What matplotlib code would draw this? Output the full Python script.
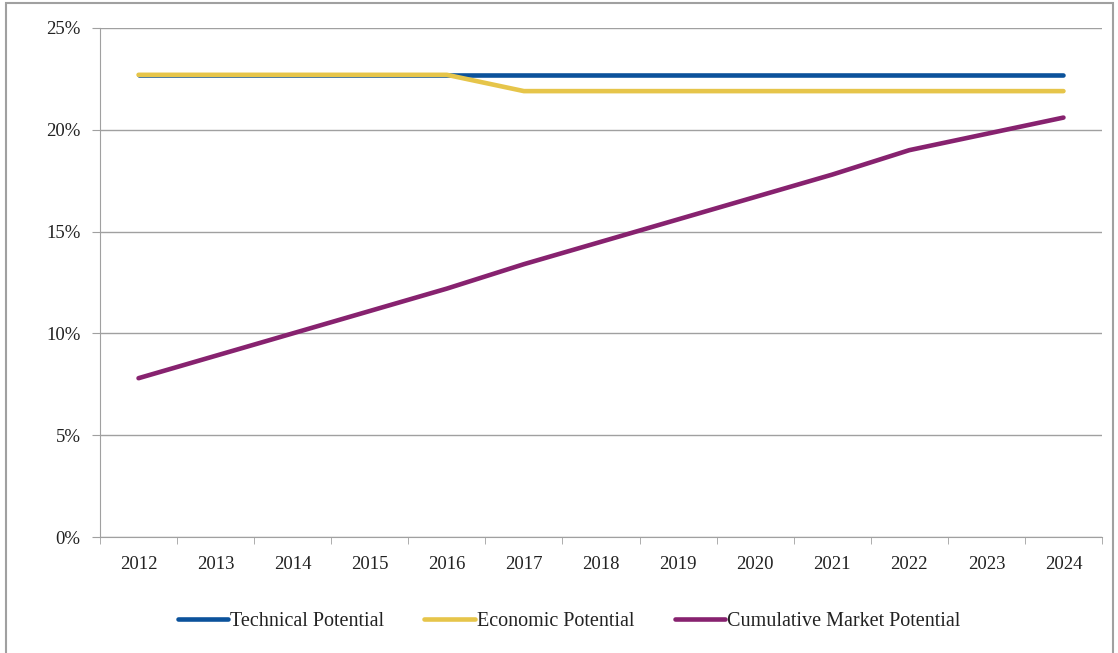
import matplotlib.pyplot as plt
from matplotlib.patches import Rectangle

# dados
anos = ['2012', '2013', '2014', '2015', '2016', '2017', '2018',
        '2019', '2020', '2021', '2022', '2023', '2024']
tecnico = [22.7] * 13
economico = [22.7, 22.7, 22.7, 22.7, 22.7, 21.9, 21.9,
             21.9, 21.9, 21.9, 21.9, 21.9, 21.9]
cumulativo = [7.8, 8.9, 10.0, 11.1, 12.2, 13.4, 14.5,
              15.6, 16.7, 17.8, 19.0, 19.8, 20.6]

plt.rcParams['font.family'] = ['Liberation Serif', 'DejaVu Serif']

fig = plt.figure(figsize=(11.18, 6.53), dpi=100)
ax = fig.add_axes([100 / 1118, 1 - 537 / 653, 1002 / 1118, 509 / 653])

xs = list(range(len(anos)))
ax.plot(xs, tecnico, color='#0B529B', lw=3.3, solid_capstyle='round', label='Technical Potential', zorder=3)
ax.plot(xs, economico, color='#E6C54A', lw=3.3, solid_capstyle='round', label='Economic Potential', zorder=4)
ax.plot(xs, cumulativo, color='#87226F', lw=3.3, solid_capstyle='round', label='Cumulative Market Potential', zorder=5)

ax.set_xlim(-0.5, len(anos) - 0.5)
ax.set_ylim(0, 25)
ax.set_yticks([0, 5, 10, 15, 20, 25])
ax.set_yticklabels([f'{v}%' for v in [0, 5, 10, 15, 20, 25]])
ax.set_xticks(xs)
ax.set_xticklabels(anos)
ax.set_xticks([x - 0.5 for x in range(len(anos) + 1)], minor=True)
ax.tick_params(axis='x', which='major', length=0, pad=14, labelsize=13.5, colors='#222222')
ax.tick_params(axis='x', which='minor', length=5, color='#A0A0A0')
ax.tick_params(axis='y', length=6, color='#A0A0A0', pad=8, labelsize=13.5, labelcolor='#222222')
ax.grid(axis='y', color='#A0A0A0', lw=1)
ax.set_axisbelow(True)
for s in ['top', 'right']:
    ax.spines[s].set_visible(False)
for s in ['left', 'bottom']:
    ax.spines[s].set_color('#A0A0A0')

fig.legend(loc='center', bbox_to_anchor=(569 / 1118, 1 - 621 / 653), ncol=3, frameon=False,
           fontsize=14.5, handlelength=2.5, handletextpad=0.1, columnspacing=2.0,
           labelcolor='#222222')

# borda da figura
fig.patches.append(Rectangle((6 / 1118, -0.1), 1107 / 1118, 1.1 - 3 / 653, transform=fig.transFigure,
                             fill=False, edgecolor='#A0A0A0', lw=1.5))

fig.savefig('out.png', dpi=100)
